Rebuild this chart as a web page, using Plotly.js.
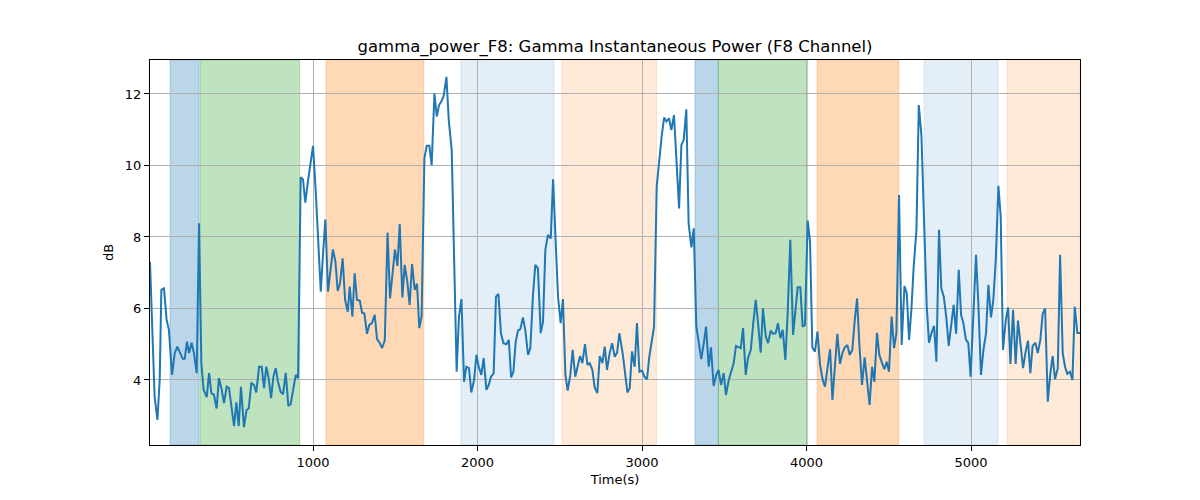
<!DOCTYPE html>
<html>
<head>
<meta charset="utf-8">
<script src="https://cdn.plot.ly/plotly-3.0.1.min.js"></script>
<style>html,body{margin:0;padding:0;background:#fff;}#chart{width:1200px;height:500px;}</style>
</head>
<body>
<div id="chart"></div>
<script>
const times = [9,37,54,68,78,94,110,124,143,159,175,191,208,220,234,246,262,276,293,307,321,335,354,368,382,398,414,428,443,459,475,489,503,520,534,548,562,580,596,609,625,641,655,672,688,702,716,
730,745,759,773,787,803,818,834,850,864,880,895,909,925,939,953,969,986,1000,1016,1032,1047,1061,1075,1091,1105,1121,1136,1150,1164,1180,1195,1211,1223,1239,1253,1267,1284,1298,1312,1328,1342,1358,1375,1389,1405,1419,1436,
1453,1468,1482,1498,1513,1527,1543,1557,1573,1587,1602,1618,1632,1646,1660,1677,1691,1707,1721,1738,1752,1766,1780,1794,1811,1825,1843,1873,1887,1902,1918,1932,1948,1962,1979,1993,2007,2023,2037,2054,2068,2082,2098,2112,2127,2142,2157,
2175,2190,2204,2218,2232,2246,2260,2276,2290,2307,2321,2337,2351,2367,2384,2398,2412,2428,2445,2459,2473,2489,2505,2519,2534,2548,2564,2578,2594,2609,2623,2637,2653,2668,2682,2698,2712,2728,2743,2759,2773,2787,2803,2818,2834,2848,2862,
2882,2896,2911,2925,2939,2955,2969,2984,3000,3014,3030,3044,3059,3073,3089,3105,3119,3134,3148,3164,3178,3194,3209,3225,3239,3253,3269,3283,3300,3314,3330,3344,3360,3375,3389,3405,3419,3435,3451,3465,3480,3496,3510,3527,3541,3557,3571,3587,
3600,3614,3630,3644,3661,3675,3691,3705,3721,3735,3752,3766,3782,3796,3812,3826,3841,3855,3871,3885,3901,3918,3932,3946,3962,3976,3990,4007,4021,4035,4051,4066,4082,4098,4112,4126,4143,4157,4173,4187,4203,4218,4232,4248,4262,4278,4293,4307,
4321,4337,4353,4367,4383,4398,4412,4428,4442,4459,4473,4487,4501,4517,4532,4546,4562,4578,4595,4609,4623,4637,4651,4668,4682,4698,4714,4730,4744,4759,4775,4789,4805,4819,4834,4850,4864,4880,4894,4909,4925,4939,4953,4969,4983,4997,5014,5030,
5044,5060,5075,5091,5105,5121,5135,5150,5166,5180,5194,5211,5225,5239,5255,5271,5285,5299,5316,5330,5346,5360,5374,5391,5405,5421,5435,5450,5466,5482,5496,5510,5527,5541,5557,5571,5585,5601,5616,5630,5646,5662];

const powerDb = [7.3,3.53,2.88,4.0,6.52,6.56,5.68,5.4,4.14,4.75,4.93,4.75,4.59,4.59,5.07,4.75,5.04,4.75,4.19,8.38,4.47,3.72,3.52,4.19,3.63,3.58,3.2,4.05,3.77,3.35,3.81,3.77,3.25,2.71,3.37,2.71,3.81,2.68,3.16,3.2,3.91,3.86,3.65,4.37,4.37,3.77,4.37,
4.05,3.49,4.09,4.33,3.95,3.67,3.6,4.2,3.27,3.32,3.72,4.14,4.05,9.67,9.61,8.96,9.55,10.06,10.55,9.31,7.92,6.47,7.54,8.49,6.47,6.98,7.65,7.31,6.49,6.7,7.4,6.24,5.91,6.61,5.77,6.98,6.24,6.22,5.88,5.86,5.29,5.54,5.59,5.82,5.14,5.04,4.89,5.1,
8.12,6.28,6.98,7.65,7.19,8.36,6.31,7.22,6.75,6.1,7.24,6.52,6.69,5.45,5.77,10.2,10.55,10.55,10.01,12.02,11.37,11.69,11.79,11.94,12.48,11.27,10.43,4.23,5.77,6.26,3.95,4.37,4.33,3.65,4.0,4.7,4.37,4.14,4.61,3.72,3.86,4.09,4.19,6.33,6.41,5.31,5.03,
5.0,5.12,4.07,4.23,5.07,5.38,5.42,5.75,5.4,4.7,4.89,6.38,7.22,7.12,5.31,5.63,7.64,8.06,7.96,9.61,8.1,6.33,5.59,6.26,4.14,3.7,4.14,4.84,4.09,4.42,4.67,4.47,5.0,4.42,4.47,4.28,3.79,3.63,4.67,4.47,4.93,4.28,4.75,5.03,4.65,4.76,5.31,
4.75,4.19,3.65,3.77,4.8,4.37,5.59,4.23,4.26,4.09,4.02,4.65,5.03,5.49,9.41,10.29,10.81,11.34,11.23,11.32,10.99,11.41,10.25,8.8,10.57,10.71,11.57,8.38,7.71,8.24,5.49,5.07,4.58,5.03,5.49,4.37,4.91,3.83,4.14,4.28,3.86,4.19,3.58,4.0,4.19,4.47,4.95,4.91,
4.89,5.45,4.14,4.61,4.84,5.54,6.24,5.59,4.76,6.0,5.21,5.03,5.38,5.29,5.31,5.59,5.17,5.4,4.56,5.86,7.92,5.26,5.86,6.59,6.59,5.49,5.54,8.46,7.87,4.91,4.79,5.35,4.42,4.0,3.81,4.33,4.86,3.44,4.37,5.29,4.45,4.75,4.91,4.98,4.7,4.84,5.68,6.28,
4.98,3.86,4.63,4.09,3.3,4.37,3.95,5.32,4.7,4.47,4.3,4.51,4.23,5.77,4.89,5.31,9.17,4.98,6.63,6.42,5.12,5.96,7.17,8.2,11.69,10.85,8.66,6.1,5.04,5.31,5.51,4.51,8.2,6.56,6.33,5.72,4.95,5.49,6.1,5.29,7.08,5.82,5.59,5.12,5.04,4.09,6.05,7.5,
6.14,4.14,4.84,5.31,6.66,5.75,6.24,7.36,9.43,8.57,4.84,5.68,6.03,4.45,5.96,4.45,5.66,5.03,4.33,4.75,5.1,4.19,4.95,5.04,4.75,5.12,5.85,6.0,3.39,4.19,4.67,4.02,4.33,7.5,4.75,4.37,4.17,4.23,4.0,6.05,5.31,5.31];

const spanStarts = [131, 313, 1079, 1899, 2513, 3322, 3464, 4064, 4714, 5219];
const spanEnds   = [307, 919, 1673, 2465, 3089, 3464, 4005, 4560, 5164, 5662];
const spanKinds  = ['blue','green','orange','lightblue','lightorange','blue','green','orange','lightblue','lightorange'];

const xTicks = [1000, 2000, 3000, 4000, 5000];
const yTicks = [4, 6, 8, 10, 12];

const kindStyle = {
  blue:        {fill: 'rgba(31,119,180,0.3)',  line: 'rgba(31,119,180,0.3)'},
  green:       {fill: 'rgba(44,160,44,0.3)',   line: 'rgba(44,160,44,0.3)'},
  orange:      {fill: 'rgba(255,127,14,0.3)',  line: 'rgba(255,127,14,0.3)'},
  lightblue:   {fill: 'rgba(31,119,180,0.12)', line: 'rgba(31,119,180,0.12)'},
  lightorange: {fill: 'rgba(255,127,14,0.16)', line: 'rgba(255,127,14,0.16)'}
};

const shapes = spanStarts.map((s, i) => ({
  type: 'rect', xref: 'x', yref: 'paper', x0: s, x1: spanEnds[i], y0: 0, y1: 1,
  fillcolor: kindStyle[spanKinds[i]].fill,
  line: {color: kindStyle[spanKinds[i]].line, width: 1},
  layer: 'below'
}));

const trace = {
  x: times, y: powerDb, type: 'scatter', mode: 'lines',
  line: {color: '#1f77b4', width: 2}, hoverinfo: 'skip'
};

const font = 'DejaVu Sans, sans-serif';
const layout = {
  width: 1200, height: 500,
  margin: {l: 150, r: 120, t: 60, b: 55},
  paper_bgcolor: '#fff', plot_bgcolor: 'rgba(0,0,0,0)',
  showlegend: false,
  title: {text: 'gamma_power_F8: Gamma Instantaneous Power (F8 Channel)', font: {family: font, size: 16.5, color: '#000'}, x: 0.5, xref: 'paper', xanchor: 'center', y: 1, yref: 'paper', yanchor: 'bottom', pad: {b: 8}},
  xaxis: {
    range: [9, 5662], tickvals: xTicks, ticktext: xTicks.map(String),
    showgrid: true, gridcolor: '#b0b0b0', gridwidth: 1,
    showline: true, linecolor: '#000', linewidth: 1, mirror: true,
    ticks: 'outside', ticklen: 5, tickcolor: '#000', zeroline: false,
    tickfont: {family: font, size: 13, color: '#000'},
    title: {text: 'Time(s)', font: {family: font, size: 13, color: '#000'}, standoff: 6}
  },
  yaxis: {
    range: [2.18, 12.95], tickvals: yTicks, ticktext: yTicks.map(String),
    showgrid: true, gridcolor: '#b0b0b0', gridwidth: 1,
    showline: true, linecolor: '#000', linewidth: 1, mirror: true,
    ticks: 'outside', ticklen: 5, tickcolor: '#000', zeroline: false,
    tickfont: {family: font, size: 13, color: '#000'},
    title: {text: 'dB', font: {family: font, size: 13, color: '#000'}, standoff: 8}
  },
  shapes: shapes
};

Plotly.newPlot('chart', [trace], layout, {displayModeBar: false, staticPlot: true});
</script>
</body>
</html>
